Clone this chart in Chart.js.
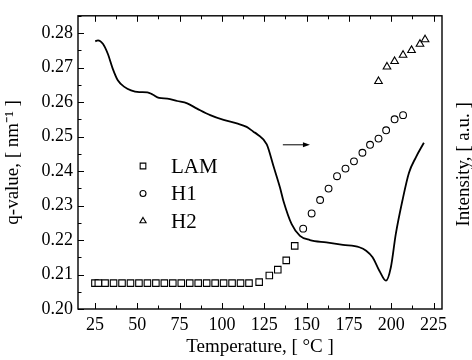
<!DOCTYPE html>
<html>
<head>
<meta charset="utf-8">
<script src="https://cdn.jsdelivr.net/npm/chart.js@4.4.1/dist/chart.umd.min.js"></script>
<style>
  html, body { margin: 0; padding: 0; background: #fff; }
</style>
</head>
<body>
<canvas id="chart" width="472" height="360"></canvas>
<script>
// LAM (squares)
const lamTemp = [25, 27, 31, 36, 41, 46, 51, 56, 61, 66, 71, 76, 81, 86, 91, 96, 101, 106, 111, 116, 122, 128, 133, 138, 143];
const lamQ = [0.2075, 0.2075, 0.2075, 0.2075, 0.2075, 0.2075, 0.2075, 0.2075, 0.2075, 0.2075, 0.2075, 0.2075, 0.2075,
  0.2075, 0.2075, 0.2075, 0.2075, 0.2075, 0.2075, 0.2075, 0.2078, 0.2097, 0.2114, 0.2141, 0.2183];

// H1 (circles)
const h1Temp = [148, 153, 158, 163, 168, 173, 178, 183, 187.5, 192.5, 197, 202, 207];
const h1Q = [0.2233, 0.2277, 0.2316, 0.2349, 0.2385, 0.2407, 0.2428, 0.2453, 0.2476, 0.2494, 0.2518, 0.2550, 0.2562];

// H2 (triangles)
const h2Temp = [192.5, 197.5, 202, 207, 212, 217, 220];
const h2Q = [0.2660, 0.2702, 0.2718, 0.2736, 0.2750, 0.2768, 0.2781];

// intensity curve (right axis, arbitrary units)
const curveTemp = [25.2, 26.8, 29.7, 32.6, 35.5, 38.5, 42.4, 46.3, 51.2, 56, 59, 62.9, 67.8, 73.6, 79.5, 85.3,
  93.1, 101, 108.8, 114.6, 118.6, 121, 126.5, 130.4, 134.3, 136.3, 141.2, 146.1, 152, 161.7, 171.5, 181.2,
  185.2, 189, 193, 196.9, 199.8, 202.7, 206.6, 210.5, 214.5, 219.3];
const curveI = [0.2776, 0.2779, 0.2769, 0.2740, 0.2697, 0.2663, 0.2644, 0.2634, 0.2629, 0.2628, 0.2622, 0.2612,
  0.2610, 0.2603, 0.2596, 0.2581, 0.2562, 0.2548, 0.2538, 0.2528, 0.2514, 0.2506, 0.2477, 0.2415, 0.2352,
  0.2314, 0.2246, 0.2212, 0.2200, 0.2193, 0.2186, 0.2179, 0.2169, 0.2150, 0.2111, 0.2082, 0.2121, 0.2217,
  0.2314, 0.2395, 0.2439, 0.2482];

const xTicks = [25, 50, 75, 100, 125, 150, 175, 200, 225];
const yTicks = [0.20, 0.21, 0.22, 0.23, 0.24, 0.25, 0.26, 0.27, 0.28];

const serif = "'Liberation Serif', 'Times New Roman', serif";

function pairs(xs, ys) {
  return xs.map((x, i) => ({ x: x, y: ys[i] }));
}

// frame, inward ticks, arrow, legend and right title
const decorations = {
  id: 'decorations',
  afterDraw(chart) {
    const { ctx, chartArea: a, scales } = chart;
    const sx = scales.x, sy = scales.y;
    ctx.save();
    ctx.strokeStyle = '#000';
    ctx.lineWidth = 1;
    ctx.beginPath();
    for (let t = 12.5; t <= 230; t += 12.5) {
      if (t < sx.min) continue;
      const px = Math.round(sx.getPixelForValue(t)) + 0.5;
      const len = t % 25 === 0 ? 6 : 3.5;
      ctx.moveTo(px, a.bottom); ctx.lineTo(px, a.bottom - len);
      ctx.moveTo(px, a.top); ctx.lineTo(px, a.top + len);
    }
    for (let k = 0; k <= 17; k++) {
      const v = 0.20 + k * 0.005;
      const py = Math.round(sy.getPixelForValue(v)) + 0.5;
      const len = k % 2 === 0 ? 6 : 3.5;
      ctx.moveTo(a.left, py); ctx.lineTo(a.left + len, py);
    }
    ctx.stroke();

    ctx.lineWidth = 1.4;
    ctx.strokeRect(a.left, a.top, a.right - a.left, a.bottom - a.top);

    // arrow pointing to the right axis
    const ax1 = sx.getPixelForValue(136), ax2 = sx.getPixelForValue(152);
    const ay = sy.getPixelForValue(0.2476);
    ctx.lineWidth = 1;
    ctx.beginPath();
    ctx.moveTo(ax1, ay); ctx.lineTo(ax2 - 4, ay);
    ctx.stroke();
    ctx.fillStyle = '#000';
    ctx.beginPath();
    ctx.moveTo(ax2, ay); ctx.lineTo(ax2 - 7, ay - 2.5); ctx.lineTo(ax2 - 7, ay + 2.5);
    ctx.closePath();
    ctx.fill();

    // legend
    const items = chart.data.datasets.filter(d => d.inLegend);
    const lx = 143, ly0 = 166, dy = 27.5;
    ctx.font = '21px ' + serif;
    ctx.textBaseline = 'middle';
    items.forEach((d, i) => {
      const y = ly0 + i * dy;
      ctx.strokeStyle = '#000';
      ctx.fillStyle = '#fff';
      ctx.lineWidth = 1.1;
      Chart.helpers.drawPoint(ctx, {
        pointStyle: d.pointStyle, radius: d.legendRadius, borderWidth: 1.1, rotation: 0
      }, lx, y);
      ctx.fillStyle = '#000';
      ctx.fillText(d.label, 171, y + 1);
    });

    // right axis title, reading bottom to top
    ctx.save();
    ctx.translate(464, (a.top + a.bottom) / 2 + 2);
    ctx.rotate(-Math.PI / 2);
    ctx.font = '19px ' + serif;
    ctx.textAlign = 'center';
    ctx.textBaseline = 'middle';
    ctx.fillStyle = '#000';
    ctx.fillText('Intensity, [ a.u. ]', 0, 0);
    ctx.restore();

    ctx.restore();
  }
};

const ctx = document.getElementById('chart').getContext('2d');
new Chart(ctx, {
  type: 'scatter',
  data: {
    datasets: [
      {
        label: 'LAM',
        inLegend: true,
        legendRadius: 4,
        data: pairs(lamTemp, lamQ),
        pointStyle: 'rect',
        pointRadius: 4.6,
        borderColor: '#000',
        backgroundColor: '#fff',
        borderWidth: 1.1,
        order: 1
      },
      {
        label: 'H1',
        inLegend: true,
        legendRadius: 3,
        data: pairs(h1Temp, h1Q),
        pointStyle: 'circle',
        pointRadius: 3.4,
        borderColor: '#000',
        backgroundColor: '#fff',
        borderWidth: 1.1,
        order: 1
      },
      {
        label: 'H2',
        inLegend: true,
        legendRadius: 3.6,
        data: pairs(h2Temp, h2Q),
        pointStyle: 'triangle',
        pointRadius: 4.4,
        borderColor: '#000',
        backgroundColor: '#fff',
        borderWidth: 1.1,
        order: 1
      },
      {
        label: 'Intensity',
        data: pairs(curveTemp, curveI),
        yAxisID: 'yI',
        showLine: true,
        pointRadius: 0,
        borderColor: '#000',
        borderWidth: 1.8,
        cubicInterpolationMode: 'monotone',
        order: 2
      }
    ]
  },
  options: {
    responsive: false,
    animation: false,
    layout: { padding: 0 },
    plugins: {
      legend: { display: false },
      tooltip: { enabled: false }
    },
    scales: {
      x: {
        type: 'linear',
        position: 'bottom',
        min: 15,
        max: 230,
        afterBuildTicks: (s) => { s.ticks = xTicks.map(v => ({ value: v })); },
        afterFit: (s) => { s.height = 51; },
        grid: { display: false, drawTicks: false },
        border: { display: false },
        ticks: {
          color: '#000',
          padding: 5,
          maxRotation: 0,
          font: { family: serif, size: 18 },
          callback: (v) => v
        },
        title: {
          display: true,
          text: 'Temperature, [ °C ]',
          color: '#000',
          padding: { top: 0, bottom: 2 },
          font: { family: serif, size: 19 }
        }
      },
      xTop: {
        type: 'linear',
        position: 'top',
        min: 15,
        max: 230,
        afterFit: (s) => { s.height = 14; },
        grid: { display: false, drawTicks: false },
        border: { display: false },
        ticks: { display: false }
      },
      y: {
        type: 'linear',
        position: 'left',
        min: 0.20,
        max: 0.285,
        afterBuildTicks: (s) => { s.ticks = yTicks.map(v => ({ value: v })); },
        afterFit: (s) => { s.width = 78; },
        grid: { display: false, drawTicks: false },
        border: { display: false },
        ticks: {
          color: '#000',
          padding: 5,
          font: { family: serif, size: 18 },
          callback: (v) => Number(v).toFixed(2)
        },
        title: {
          display: true,
          text: 'q-value, [ nm⁻¹ ]',
          color: '#000',
          padding: { top: 2, bottom: 0 },
          font: { family: serif, size: 19 }
        }
      },
      yI: {
        type: 'linear',
        position: 'right',
        min: 0.20,
        max: 0.285,
        afterFit: (s) => { s.width = 30; },
        grid: { display: false, drawTicks: false },
        border: { display: false },
        ticks: { display: false }
      }
    }
  },
  plugins: [decorations]
});
</script>
</body>
</html>
